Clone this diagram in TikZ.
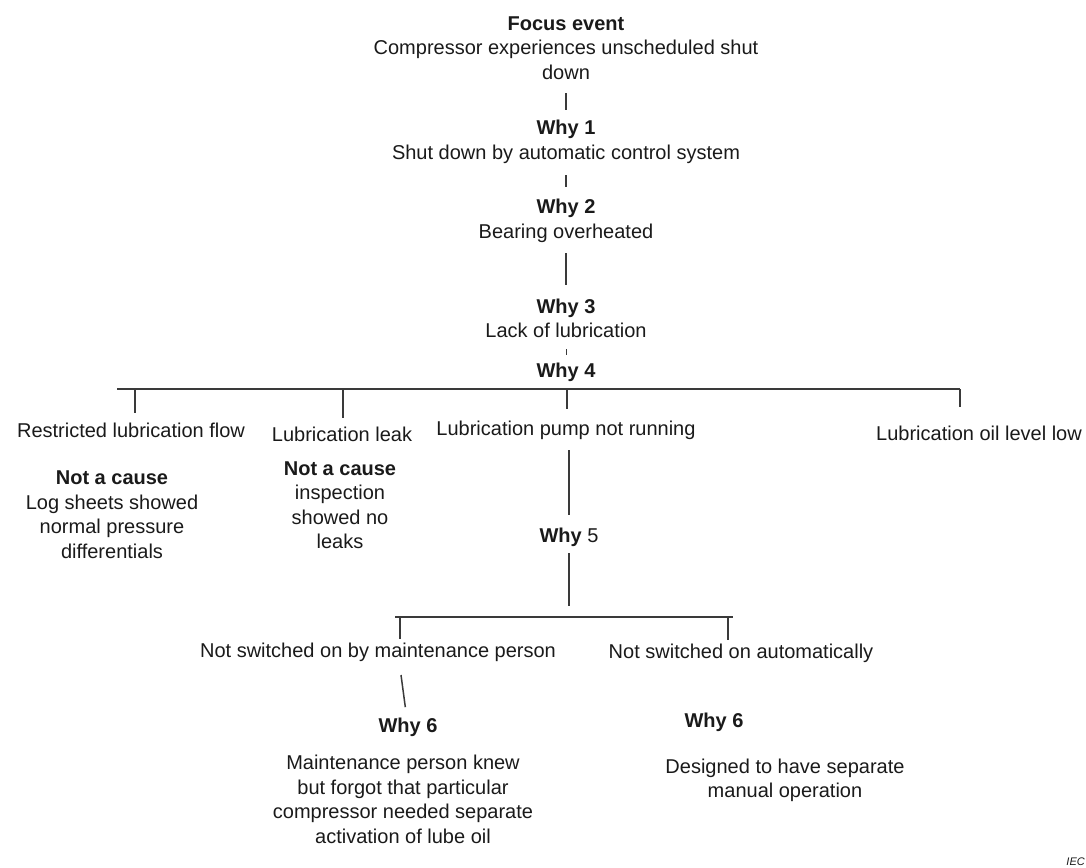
\documentclass[tikz,border=0pt]{standalone}
\usepackage{fontspec}
\setmainfont{Liberation Sans}
\definecolor{ink}{HTML}{1A1A1A}
\definecolor{wire}{HTML}{3A3A3A}
\begin{document}
\begin{tikzpicture}[x=1pt,y=-1pt,
  txt/.style={font=\fontsize{20}{24.5}\selectfont, align=center, inner sep=0pt, text=ink},
  link/.style={draw=wire, line width=1.5pt},
  note/.style={font=\fontsize{11}{13}\selectfont\itshape, inner sep=0pt, text=ink}]
\useasboundingbox (0,0) rectangle (1086,867);

% --- main chain ---
\node[txt] (focus) at (566,48) {\textbf{Focus event}\\Compressor experiences unscheduled shut\\down};
\node[txt] (why1) at (566,142) {\textbf{Why 1}\\Shut down by automatic control system};
\node[txt] (why2) at (566,221) {\textbf{Why 2}\\Bearing overheated};
\node[txt] (why3) at (566,318.5) {\textbf{Why 3}\\Lack of lubrication};
\node[txt] (why4) at (566,372) {\textbf{Why 4}};

\draw[link, shorten <=45pt, shorten >=32pt] (focus.center) -- (why1.center);
\draw[link, shorten <=33pt, shorten >=34pt] (why1.center) -- (why2.center);
\draw[link, shorten <=32pt, shorten >=33.5pt] (why2.center) -- (why3.center);
\draw[link, line width=1pt, shorten <=30.5pt, shorten >=17pt] (why3.center) -- (why4.center);

% --- Why 4 branches ---
\node[txt] (restricted) at (131,430) {Restricted lubrication flow};
\node[txt] (leak) at (342,434) {Lubrication leak};
\node[txt] (pump) at (566,430) {Lubrication pump not running};
\node[txt] (oillow) at (979,433) {Lubrication oil level low};

\node[txt] (nc1) at (112,514.5) {\textbf{Not a cause}\\Log sheets showed\\normal pressure\\differentials};
\node[txt] (nc2) at (340,505) {\textbf{Not a cause}\\inspection\\showed no\\leaks};

\coordinate (b4L) at (117,389);
\coordinate (b4R) at (960,389);
\coordinate (t1) at (135,389);
\coordinate (t2) at (343,389);
\coordinate (t3) at (567,389);
\draw[link] (b4L) -- (b4R);
\draw[link, shorten >=17pt] (t1) -- (t1 |- restricted.center);
\draw[link, shorten >=16pt] (t2) -- (t2 |- leak.center);
\draw[link, shorten >=21pt] (t3) -- (t3 |- pump.center);
\draw[link, shorten >=26pt] (b4R) -- (b4R |- oillow.center);

% --- Why 5 ---
\node[txt] (why5) at (569,537) {\textbf{Why} 5};
\draw[link, shorten <=20pt, shorten >=22pt] (pump.center -| why5.center) -- (why5.center);

\coordinate (b5L) at (395,617);
\coordinate (b5R) at (733,617);
\coordinate (b5m) at (569,617);
\coordinate (s1) at (400,618);
\coordinate (s2) at (728,618);
\draw[link, shorten <=16pt, shorten >=11pt] (why5.center) -- (b5m);
\draw[link] (b5L) -- (b5R);

\node[txt] (nsm) at (378,652) {Not switched on by maintenance person};
\node[txt] (nsa) at (741,653) {Not switched on automatically};
\draw[link, shorten >=13pt] (s1) -- (s1 |- nsm.center);
\draw[link, shorten >=13pt] (s2) -- (s2 |- nsa.center);

% --- Why 6 ---
\node[txt] (why6a) at (408,727) {\textbf{Why 6}};
\node[txt] (text6a) at (403,799.5) {Maintenance person knew\\but forgot that particular\\compressor needed separate\\activation of lube oil};
\node[txt] (why6b) at (714,722) {\textbf{Why 6}};
\node[txt] (text6b) at (785,780.5) {Designed to have separate\\manual operation};

\coordinate (k6) at (401,675);
\draw[link, shorten <=20pt] (why6a.center) -- (k6);

\node[note, anchor=base east] (iec) at (1085,865) {IEC};
\end{tikzpicture}
\end{document}
